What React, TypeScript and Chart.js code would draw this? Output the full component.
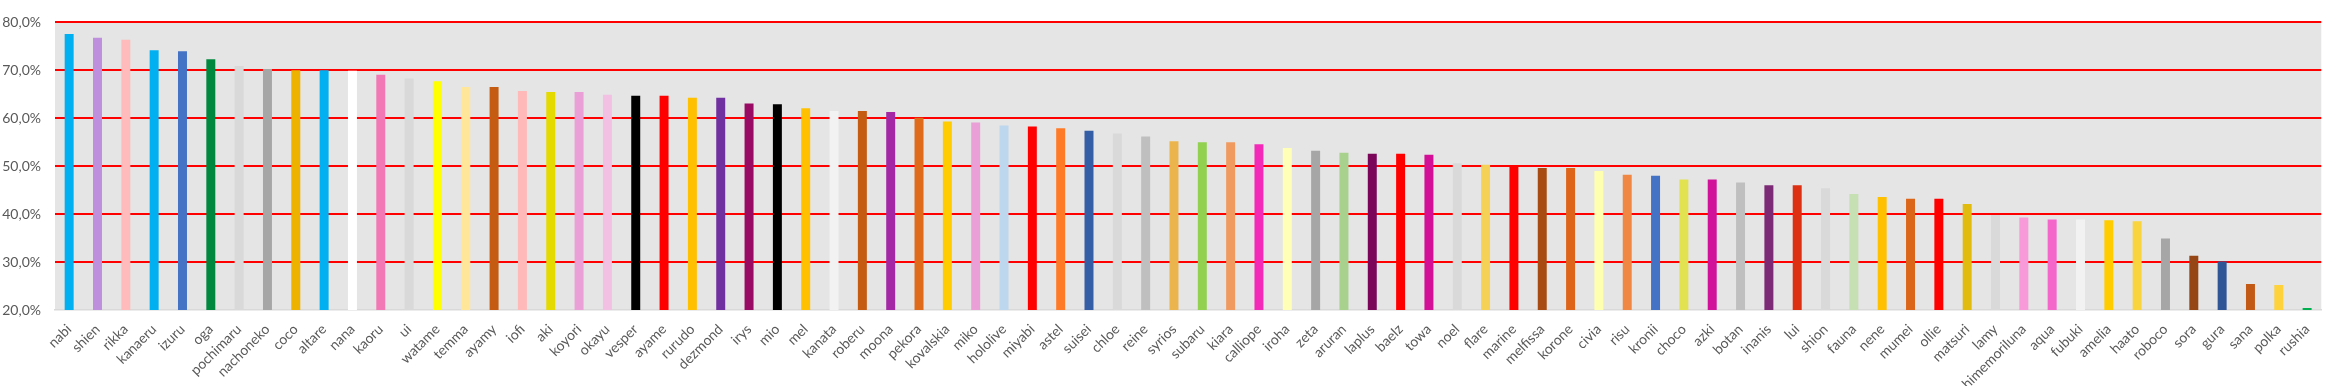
import React, { useEffect, useRef } from "react";
import { Chart, registerables } from "chart.js";

Chart.register(...registerables);

const categories = [
  "nabi", "shien", "rikka", "kanaeru", "izuru", "oga", "pochimaru", "nachoneko", "coco", "altare",
  "nana", "kaoru", "ui", "watame", "temma", "ayamy", "iofi", "aki", "koyori", "okayu",
  "vesper", "ayame", "rurudo", "dezmond", "irys", "mio", "mel", "kanata", "roberu", "moona",
  "pekora", "kovalskia", "miko", "hololive", "miyabi", "astel", "suisei", "chloe", "reine", "syrios",
  "subaru", "kiara", "calliope", "iroha", "zeta", "aruran", "laplus", "baelz", "towa", "noel",
  "flare", "marine", "melfissa", "korone", "civia", "risu", "kronii", "choco", "azki", "botan",
  "inanis", "lui", "shion", "fauna", "nene", "mumei", "ollie", "matsuri", "lamy", "himemoriluna",
  "aqua", "fubuki", "amelia", "haato", "roboco", "sora", "gura", "sana", "polka", "rushia",
];

const values = [
  77.6, 76.8, 76.4, 74.2, 74.0, 72.3, 70.9, 70.3, 70.0, 70.0,
  69.9, 69.1, 68.3, 67.7, 66.5, 66.5, 65.7, 65.5, 65.5, 64.9,
  64.7, 64.7, 64.3, 64.3, 63.1, 62.9, 62.1, 61.5, 61.5, 61.3,
  60.1, 59.3, 59.1, 58.5, 58.3, 57.9, 57.4, 56.8, 56.2, 55.2,
  55.0, 55.0, 54.6, 53.8, 53.2, 52.8, 52.6, 52.6, 52.4, 50.6,
  50.3, 50.0, 49.6, 49.6, 49.0, 48.2, 48.0, 47.2, 47.2, 46.6,
  46.0, 46.0, 45.4, 44.2, 43.6, 43.2, 43.2, 42.1, 39.8, 39.3,
  38.9, 38.9, 38.7, 38.5, 34.9, 31.3, 30.1, 25.4, 25.2, 20.4,
];

const barColors = [
  "#00B0F0", "#BE8FDC", "#FFBBBB", "#00B0F0", "#4472C4", "#00883E", "#D9D9D9", "#A6A6A6", "#EDB200", "#00B0F0",
  "#FFFFFF", "#F277B5", "#D9D9D9", "#FFFF00", "#FFE699", "#C55A11", "#FFB9B9", "#E4DA00", "#EAA0D6", "#F2C0E2",
  "#000000", "#FF0000", "#FFC000", "#7030A0", "#990A64", "#000000", "#FFC000", "#F2F2F2", "#C55A11", "#A428A5",
  "#DF6A1A", "#FFCC00", "#EAA0D6", "#BDD7EE", "#FF0000", "#FF7A26", "#345EA6", "#D9D9D9", "#BFBFBF", "#ECB44D",
  "#92D050", "#F09A60", "#F32AB7", "#FFFFB7", "#A6A6A6", "#A9D18E", "#7B0558", "#FF0000", "#D20F96", "#D9D9D9",
  "#F5D255", "#FF0000", "#A84B12", "#DD6419", "#FFFFB0", "#F08844", "#4472C4", "#E2E150", "#D1119A", "#BFBFBF",
  "#7C2A76", "#DD2F12", "#D9D9D9", "#C6E0B4", "#FFC000", "#DB6518", "#FF0000", "#E2BB0F", "#D9D9D9", "#F899DA",
  "#F566CA", "#F2F2F2", "#FFCC00", "#FAD43C", "#A6A6A6", "#964514", "#2F5597", "#C25A16", "#FED23A", "#00B050",
];

const yTicks = [20, 30, 40, 50, 60, 70, 80];

const bgPlugin = {
  id: "bg",
  beforeDraw(chart: any) {
    const { ctx, chartArea, width, height } = chart;
    ctx.save();
    ctx.fillStyle = "#FFFFFF";
    ctx.fillRect(0, 0, width, height);
    ctx.fillStyle = "#E5E5E5";
    ctx.fillRect(chartArea.left, chartArea.top, chartArea.right - chartArea.left, chartArea.bottom - chartArea.top);
    ctx.restore();
  },
};

export default function App() {
  const ref = useRef<HTMLCanvasElement | null>(null);

  useEffect(() => {
    document.body.style.margin = "0";
    const canvas = ref.current!;
    const chart = new Chart(canvas, {
      type: "bar",
      data: {
        labels: categories,
        datasets: [
          {
            data: values,
            backgroundColor: barColors,
            borderWidth: 0,
            barPercentage: 0.317,
            categoryPercentage: 1,
          },
        ],
      },
      options: {
        animation: false,
        responsive: false,
        layout: { padding: { top: 12, left: 0, right: 0, bottom: 0 } },
        plugins: { legend: { display: false }, tooltip: { enabled: false } },
        scales: {
          x: {
            offset: true,
            grid: { display: true, drawOnChartArea: false, drawTicks: false, color: "rgba(0,0,0,0)" },
            border: { display: true, color: "#D9D9D9", width: 1.5 },
            ticks: {
              autoSkip: false,
              maxRotation: 45,
              minRotation: 45,
              padding: 11,
              color: "#595959",
              font: { family: "Lato", size: 14 },
            },
            afterFit(scale: any) {
              scale.height = 76;
            },
          },
          y: {
            min: 20,
            max: 80,
            afterBuildTicks(scale: any) {
              scale.ticks = yTicks.map((v) => ({ value: v }));
            },
            grid: {
              drawTicks: false,
              lineWidth: 2,
              color: (ctx: any) => (ctx.tick && ctx.tick.value === 20 ? "rgba(0,0,0,0)" : "#FF0000"),
            },
            border: { display: false },
            ticks: {
              padding: 14,
              color: "#595959",
              font: { family: "Lato", size: 14 },
              callback: (v: any) => Number(v).toFixed(1).replace(".", ",") + "%",
            },
            afterFit(scale: any) {
              scale.width = 55;
            },
          },
        },
      },
      plugins: [bgPlugin],
    });
    return () => chart.destroy();
  }, []);

  return <canvas ref={ref} width={2330} height={386} style={{ display: "block" }} />;
}
